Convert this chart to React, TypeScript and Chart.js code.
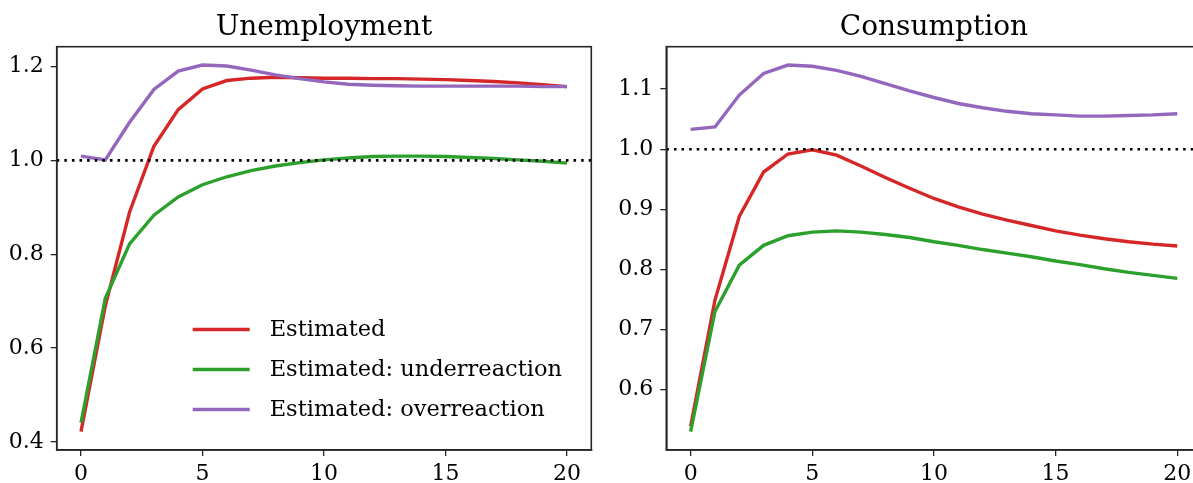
import React, { useEffect, useRef } from 'react';
import { Chart, registerables } from 'chart.js';

Chart.register(...registerables);

// ---- data ----
const horizons = [0, 1, 2, 3, 4, 5, 6, 7, 8, 9, 10, 11, 12, 13, 14, 15, 16, 17, 18, 19, 20];
const xTicks = [0, 5, 10, 15, 20];

const unempEstimated = [0.422, 0.690, 0.890, 1.030, 1.108, 1.152, 1.170, 1.175, 1.177, 1.176, 1.175, 1.175, 1.174, 1.174, 1.173, 1.172, 1.170, 1.168, 1.165, 1.161, 1.157];
const unempUnder = [0.441, 0.706, 0.822, 0.883, 0.922, 0.948, 0.965, 0.978, 0.988, 0.995, 1.001, 1.005, 1.008, 1.009, 1.009, 1.008, 1.006, 1.004, 1.001, 0.998, 0.994];
const unempOver = [1.009, 1.001, 1.081, 1.151, 1.190, 1.203, 1.201, 1.192, 1.182, 1.174, 1.167, 1.162, 1.160, 1.159, 1.158, 1.158, 1.158, 1.158, 1.158, 1.157, 1.157];
const unempYTicks = [0.4, 0.6, 0.8, 1.0, 1.2];

const consEstimated = [0.539, 0.749, 0.888, 0.962, 0.992, 0.999, 0.990, 0.972, 0.953, 0.935, 0.918, 0.904, 0.892, 0.882, 0.873, 0.864, 0.857, 0.851, 0.846, 0.842, 0.839];
const consUnder = [0.530, 0.730, 0.807, 0.840, 0.856, 0.862, 0.864, 0.862, 0.858, 0.853, 0.846, 0.840, 0.833, 0.827, 0.821, 0.814, 0.808, 0.801, 0.795, 0.790, 0.785];
const consOver = [1.033, 1.037, 1.090, 1.126, 1.140, 1.138, 1.131, 1.121, 1.109, 1.097, 1.086, 1.076, 1.069, 1.063, 1.059, 1.057, 1.055, 1.055, 1.056, 1.057, 1.059];
const consYTicks = [0.6, 0.7, 0.8, 0.9, 1.0, 1.1];

const seriesNames = ['Estimated', 'Estimated: underreaction', 'Estimated: overreaction'];
const seriesColors = ['#d62728', '#2ca02c', '#9467bd'];
const referenceLevel = 1.0;

const FONT = "'DejaVu Serif', serif";
const AXIS_COLOR = '#262626';

function pairs(values: number[]) {
  return horizons.map((h, i) => ({ x: h, y: values[i] }));
}

function padRange(arrs: number[][]) {
  const all = arrs.flat();
  const lo = Math.min(...all);
  const hi = Math.max(...all);
  const m = (hi - lo) * 0.05;
  return [lo - m, hi + m];
}

const framePlugin = {
  id: 'frameBox',
  afterDraw(chart: any) {
    const { ctx, chartArea } = chart;
    ctx.save();
    ctx.strokeStyle = AXIS_COLOR;
    ctx.lineWidth = 1.6;
    ctx.strokeRect(chartArea.left, chartArea.top, chartArea.right - chartArea.left, chartArea.bottom - chartArea.top);
    ctx.restore();
  },
};

function titlePlugin(text: string) {
  return {
    id: 'plotTitle',
    afterDraw(chart: any) {
      const { ctx, chartArea } = chart;
      ctx.save();
      ctx.fillStyle = '#000';
      ctx.font = `28px ${FONT}`;
      ctx.textAlign = 'center';
      ctx.textBaseline = 'alphabetic';
      ctx.fillText(text, (chartArea.left + chartArea.right) / 2, 35);
      ctx.restore();
    },
  };
}

const legendPlugin = {
  id: 'insideLegend',
  afterDraw(chart: any) {
    const { ctx, chartArea } = chart;
    const x0 = chartArea.left + 136;
    const x1 = x0 + 57;
    const tx = x0 + 77;
    const y0 = 329.5;
    ctx.save();
    ctx.font = `22.5px ${FONT}`;
    ctx.textAlign = 'left';
    ctx.textBaseline = 'middle';
    seriesNames.forEach((name, i) => {
      const y = y0 + i * 40;
      ctx.strokeStyle = seriesColors[i];
      ctx.lineWidth = 3.4;
      ctx.beginPath();
      ctx.moveTo(x0, y);
      ctx.lineTo(x1, y);
      ctx.stroke();
      ctx.fillStyle = '#000';
      ctx.fillText(name, tx, y + 1);
    });
    ctx.restore();
  },
};

function buildConfig(
  series: number[][],
  yTicks: number[],
  yAxisWidth: number,
  rightPad: number,
  title: string,
  withLegend: boolean
): any {
  const [ymin, ymax] = padRange(series);
  const datasets: any[] = [
    {
      label: 'ref',
      data: [{ x: -1, y: referenceLevel }, { x: 21, y: referenceLevel }],
      borderColor: '#000',
      borderWidth: 2.6,
      borderDash: [2.6, 5.0],
      pointRadius: 0,
      order: 0,
    },
  ];
  series.forEach((vals, i) => {
    datasets.push({
      label: seriesNames[i],
      data: pairs(vals),
      borderColor: seriesColors[i],
      borderWidth: 3.4,
      pointRadius: 0,
      tension: 0,
      order: 3 - i,
    });
  });
  const plugins: any[] = [framePlugin, titlePlugin(title)];
  if (withLegend) plugins.push(legendPlugin);
  return {
    type: 'line',
    data: { datasets },
    plugins,
    options: {
      animation: false,
      responsive: false,
      layout: { padding: { top: 46.7, right: rightPad, left: 0, bottom: 0 } },
      plugins: { legend: { display: false }, tooltip: { enabled: false }, title: { display: false } },
      scales: {
        x: {
          type: 'linear',
          min: -1,
          max: 21,
          afterBuildTicks: (s: any) => { s.ticks = xTicks.map((v) => ({ value: v })); },
          afterFit: (s: any) => { s.height = 33; },
          ticks: {
            color: '#000',
            font: { family: FONT, size: 22 },
            padding: 5,
            maxRotation: 0,
            callback: (v: any) => String(v),
          },
          grid: { display: true, drawOnChartArea: false, drawTicks: true, tickLength: 6, color: AXIS_COLOR, lineWidth: 1.3 },
          border: { display: true, color: AXIS_COLOR, width: 1.6 },
        },
        y: {
          type: 'linear',
          min: ymin,
          max: ymax,
          afterBuildTicks: (s: any) => { s.ticks = yTicks.map((v) => ({ value: v })); },
          afterFit: (s: any) => { s.width = yAxisWidth; },
          ticks: {
            color: '#000',
            font: { family: FONT, size: 22 },
            padding: 7,
            callback: (v: any) => Number(v).toFixed(1),
          },
          grid: { display: true, drawOnChartArea: false, drawTicks: true, tickLength: 6, color: AXIS_COLOR, lineWidth: 1.3 },
          border: { display: true, color: AXIS_COLOR, width: 1.6 },
        },
      },
    },
  };
}

function Panel(props: {
  left: number; width: number; series: number[][]; yTicks: number[];
  yAxisWidth: number; rightPad: number; title: string; legend: boolean;
}) {
  const ref = useRef<HTMLCanvasElement | null>(null);
  useEffect(() => {
    if (!ref.current) return;
    const chart = new Chart(
      ref.current,
      buildConfig(props.series, props.yTicks, props.yAxisWidth, props.rightPad, props.title, props.legend)
    );
    return () => chart.destroy();
  }, []);
  return (
    <canvas
      ref={ref}
      width={props.width}
      height={483}
      style={{ position: 'absolute', left: props.left, top: 0, width: props.width, height: 483 }}
    />
  );
}

export default function App() {
  return (
    <div style={{ position: 'fixed', left: 0, top: 0, width: 1193, height: 483, overflow: 'hidden', background: '#fff' }}>
      <Panel
        left={0}
        width={600}
        series={[unempEstimated, unempUnder, unempOver]}
        yTicks={unempYTicks}
        yAxisWidth={56.7}
        rightPad={8.7}
        title="Unemployment"
        legend={true}
      />
      <Panel
        left={600}
        width={620}
        series={[consEstimated, consUnder, consOver]}
        yTicks={consYTicks}
        yAxisWidth={66.3}
        rightPad={18.4}
        title="Consumption"
        legend={false}
      />
    </div>
  );
}
